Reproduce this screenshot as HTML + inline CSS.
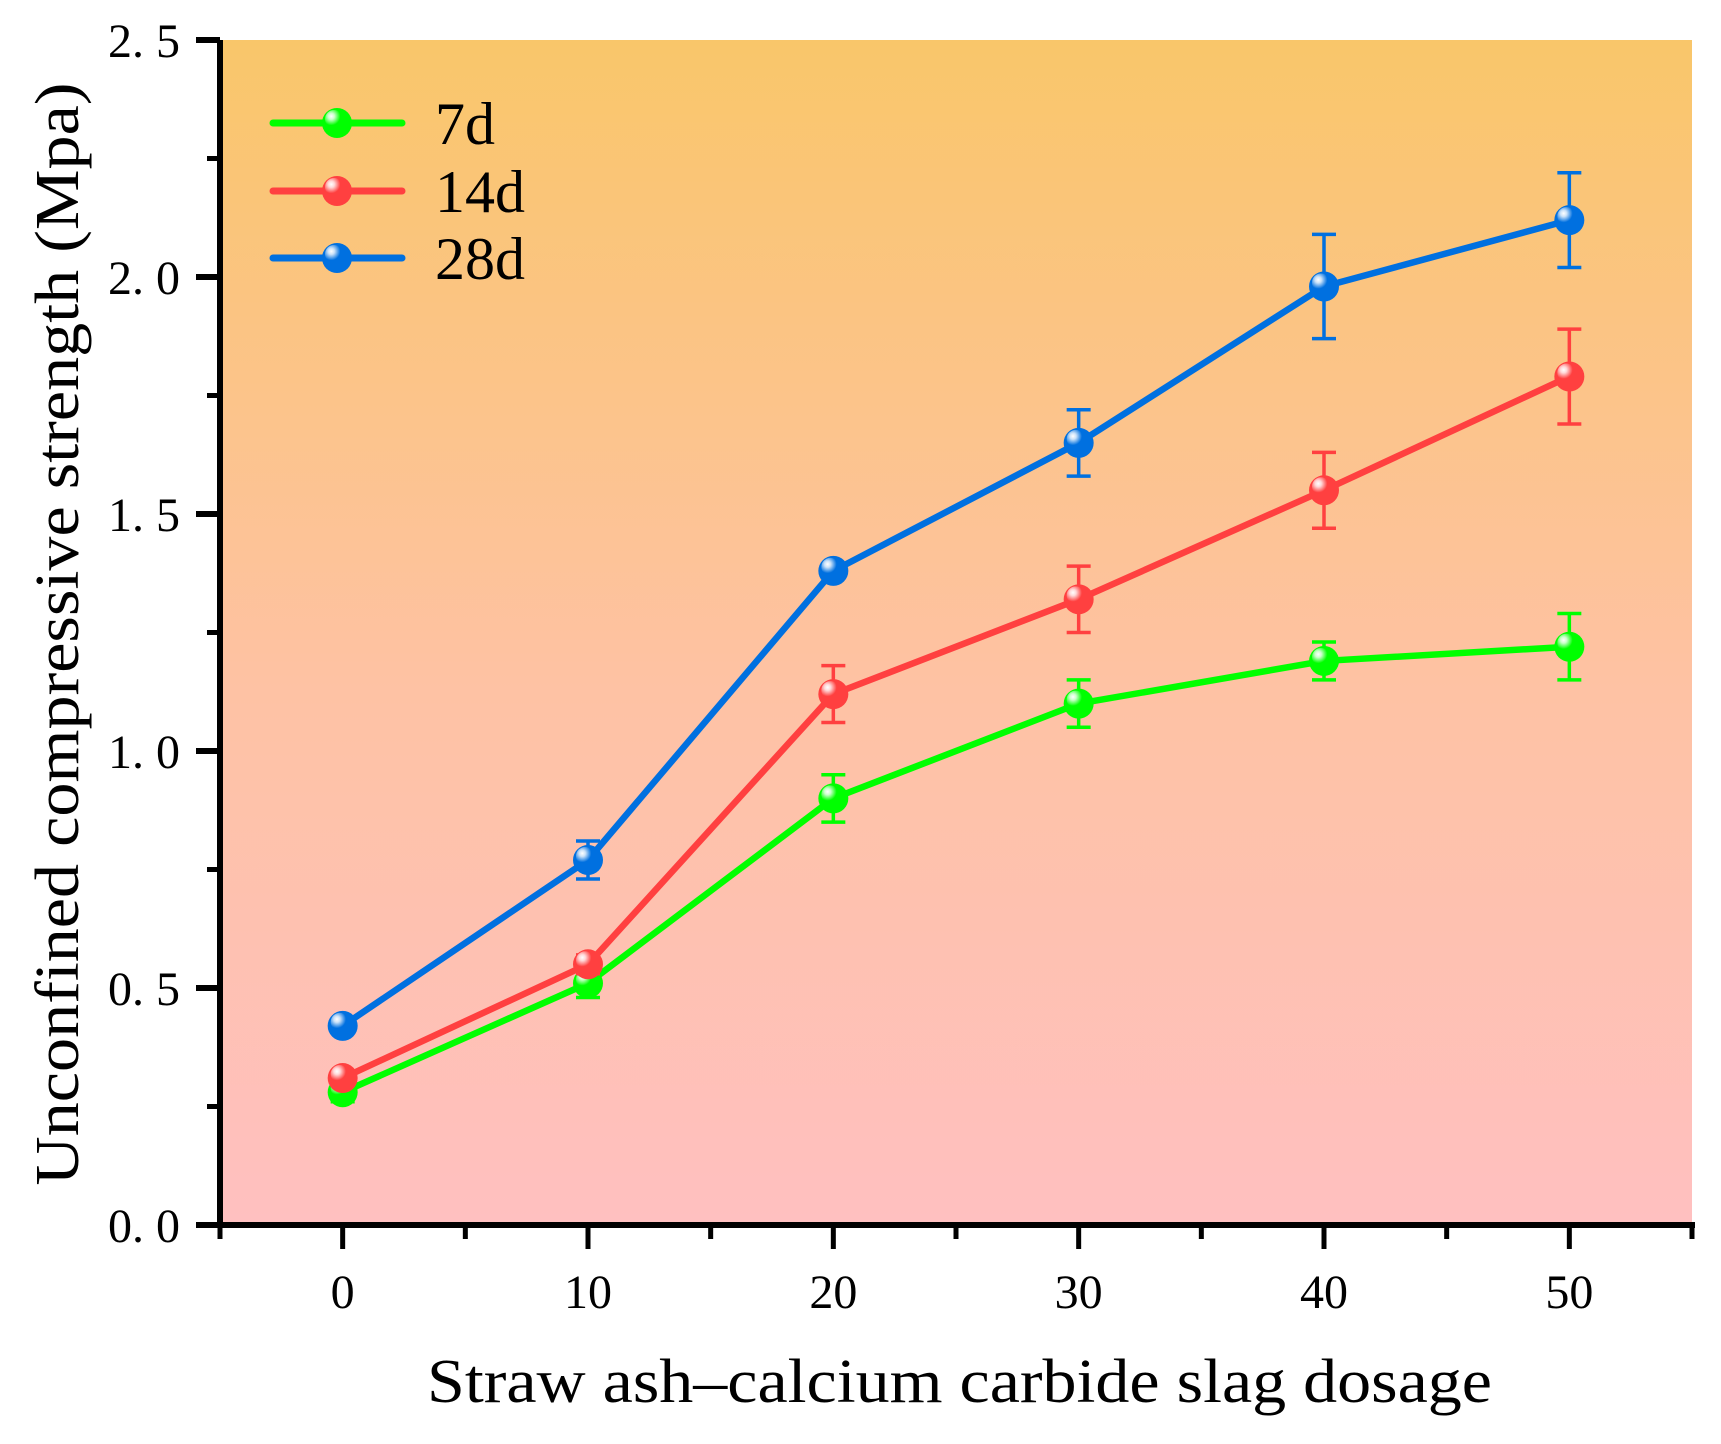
<!DOCTYPE html>
<html><head><meta charset="utf-8"><style>
html,body{margin:0;padding:0;background:#fff;}
svg{display:block;font-family:"Liberation Serif",serif;}
</style></head><body>
<svg id="chart" width="1721" height="1444" viewBox="0 0 1721 1444" xmlns="http://www.w3.org/2000/svg">
<defs>
<linearGradient id="bg" x1="0" y1="0" x2="0" y2="1">
<stop offset="0" stop-color="#F9C66A"/>
<stop offset="0.55" stop-color="#FEC2A4"/>
<stop offset="1" stop-color="#FFC0C0"/>
</linearGradient>
<radialGradient id="hl" cx="0.35" cy="0.35" r="0.5">
<stop offset="0" stop-color="#fff"/><stop offset="0.35" stop-color="#fff" stop-opacity="0.8"/><stop offset="1" stop-color="#fff" stop-opacity="0"/>
</radialGradient>
</defs>
<rect x="220" y="40" width="1472" height="1185" fill="url(#bg)"/>
<g id="marks"></g>
<g id="axes"></g>
<text x="427" y="1402" font-size="62" textLength="1065" lengthAdjust="spacingAndGlyphs">Straw ash–calcium carbide slag dosage</text>
<text transform="translate(78,634) rotate(-90)" text-anchor="middle" font-size="62" textLength="1103" lengthAdjust="spacingAndGlyphs">Unconfined compressive strength (Mpa)</text>
<g id="legend"></g>
</svg>
<script>
const categories = [0, 10, 20, 30, 40, 50];
const seriesNames = ["7d", "14d", "28d"];
const values7d = [0.28, 0.51, 0.90, 1.10, 1.19, 1.22];
const values14d = [0.31, 0.55, 1.12, 1.32, 1.55, 1.79];
const values28d = [0.42, 0.77, 1.38, 1.65, 1.98, 2.12];
const err7d = [0.02, 0.03, 0.05, 0.05, 0.04, 0.07];
const err14d = [0.01, 0.02, 0.06, 0.07, 0.08, 0.10];
const err28d = [0.01, 0.04, 0.01, 0.07, 0.11, 0.10];
const yTicks = [0, 0.5, 1.0, 1.5, 2.0, 2.5];
const yTickLabels = ["0. 0", "0. 5", "1. 0", "1. 5", "2. 0", "2. 5"];
const xTickLabels = ["0", "10", "20", "30", "40", "50"];

const NS = "http://www.w3.org/2000/svg";
const X0 = 220, X1 = 1692, Y0 = 1225, Y1 = 40;
const xMin = -5, xMax = 55, yMin = 0, yMax = 2.5;
function xs(v){ return X0 + (v - xMin) / (xMax - xMin) * (X1 - X0); }
function ys(v){ return Y0 - (v - yMin) / (yMax - yMin) * (Y0 - Y1); }
function mk(tag, attrs, parent){
  const e = document.createElementNS(NS, tag);
  for (const k in attrs) e.setAttribute(k, attrs[k]);
  parent.appendChild(e); return e;
}
const colors = ["#00FF00", "#FF4040", "#0070E0"];
const allVals = [values7d, values14d, values28d];
const allErr = [err7d, err14d, err28d];
const marks = document.getElementById("marks");
allVals.forEach((vals, s) => {
  const g = mk("g", {}, marks);
  
  
  const pts = vals.map((v, i) => xs(categories[i]) + "," + ys(v)).join(" ");
  const line = mk("polyline", {points: pts, fill: "none", stroke: colors[s], "stroke-width": 6.5, "stroke-linejoin": "round"}, g);
  
  
  vals.forEach((v, i) => {
    const x = xs(categories[i]), e = allErr[s][i];
    const eb = mk("path", {d: `M${x},${ys(v+e)}V${ys(v-e)}M${x-12},${ys(v+e)}H${x+12}M${x-12},${ys(v-e)}H${x+12}`, stroke: colors[s], "stroke-width": 3.5, fill: "none"}, g);
    
    
    const c = mk("circle", {cx: x, cy: ys(v), r: 15, fill: colors[s]}, g);
    
    
    const h = mk("circle", {cx: x - 3, cy: ys(v) - 4, r: 9, fill: "url(#hl)"}, g);
    
    
  });
});
const axes = document.getElementById("axes");
const ya = mk("line", {x1: X0, y1: Y1, x2: X0, y2: Y0 + 3, stroke: "#000", "stroke-width": 6}, axes);


const xa = mk("line", {x1: X0 - 24, y1: Y0, x2: X1 + 3, y2: Y0, stroke: "#000", "stroke-width": 6}, axes);


yTicks.forEach((t, i) => {
  const y = ys(t);
  mk("line", {x1: X0 - 24, y1: y, x2: X0, y2: y, stroke: "#000", "stroke-width": 6}, axes);
  if (i < yTicks.length - 1) mk("line", {x1: X0 - 13, y1: ys(t + 0.25), x2: X0, y2: ys(t + 0.25), stroke: "#000", "stroke-width": 5}, axes);
  const tx = mk("text", {x: 180, y: y + 17, "text-anchor": "end", "font-size": 48}, axes);
  tx.textContent = yTickLabels[i];
  
  
});
for (let v = -5; v <= 55; v += 5) {
  const major = v % 10 === 0;
  mk("line", {x1: xs(v), y1: Y0, x2: xs(v), y2: major ? 1249 : 1239, stroke: "#000", "stroke-width": 5}, axes);
}
categories.forEach((c, i) => {
  const tx = mk("text", {x: xs(c), y: 1308, "text-anchor": "middle", "font-size": 48}, axes);
  tx.textContent = xTickLabels[i];
  
  
});
const legend = document.getElementById("legend");


const legY = [123, 191, 258];
seriesNames.forEach((n, s) => {
  const g = mk("g", {}, legend);
  
  
  mk("line", {x1: 273, y1: legY[s], x2: 402, y2: legY[s], stroke: colors[s], "stroke-width": 7, "stroke-linecap": "round"}, g);
  mk("circle", {cx: 337, cy: legY[s], r: 15, fill: colors[s]}, g);
  mk("circle", {cx: 334, cy: legY[s] - 4, r: 9, fill: "url(#hl)"}, g);
  const t = mk("text", {x: 435, y: legY[s] + 21, "font-size": 60}, g);
  t.textContent = n;
});
</script>
</body></html>
